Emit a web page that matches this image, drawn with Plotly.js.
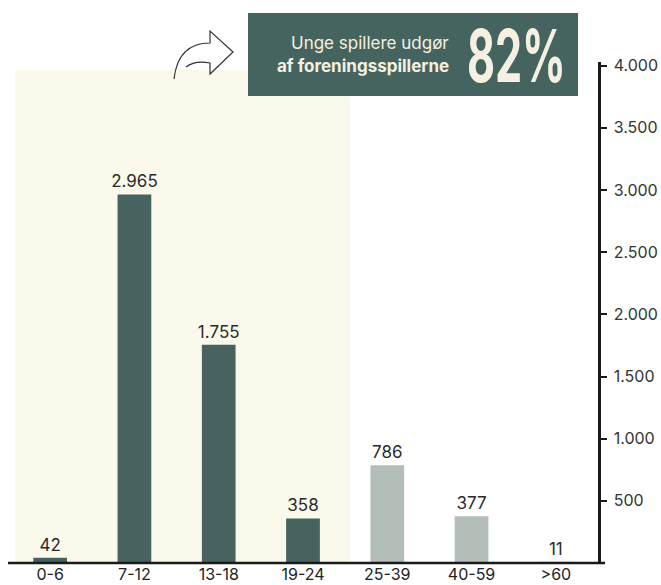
<!DOCTYPE html>
<html>
<head>
<meta charset="utf-8">
<script src="https://cdn.plot.ly/plotly-3.0.1.min.js"></script>
<style>html,body{margin:0;padding:0;background:#fff;}#chart{width:661px;height:585px;}</style>
</head>
<body>
<div id="chart"></div>
<script>
// Data
const categories = ["0-6", "7-12", "13-18", "19-24", "25-39", "40-59", ">60"];
const players = [42, 2965, 1755, 358, 786, 377, 11];
const youthGroup = [true, true, true, true, false, false, false];
const yTickVals = [500, 1000, 1500, 2000, 2500, 3000, 3500, 4000];
const headlineLine1 = "Unge spillere udgør";
const headlineLine2 = "af foreningsspillerne";
const headlineValue = "82%";

// Layout geometry (pixels)
const W = 661, H = 585;
const L = 8, R = 598, T = 62, B = 563;
const px = X => (X - L) / (R - L);
const py = Y => (B - Y) / (B - T);
const pt = (X, Y) => px(X).toFixed(4) + "," + py(Y).toFixed(4);

const darkCol = "#47635F";
const lightCol = "#B4BEB9";
const creamBg = "#FBF8EC";
const boxCol = "#46645F";
const creamText = "#F5F0E1";
const sansFont = "Inter, 'Open Sans', sans-serif";

const trace = {
  type: "bar",
  x: categories,
  y: players,
  marker: { color: youthGroup.map(g => g ? darkCol : lightCol) },
  texttemplate: "%{y:,d}",
  textposition: "outside",
  constraintext: "none",
  cliponaxis: false,
  textfont: { family: sansFont, size: 17, color: "#2a2a2a" },
  hoverinfo: "none"
};

const arrowPath = "M " + pt(174, 79) + " Q " + pt(178, 43) + " " + pt(210, 43) +
  " L " + pt(210, 31) + " L " + pt(233, 52) + " L " + pt(210, 74) +
  " L " + pt(210, 63) + " Q " + pt(195, 60) + " " + pt(186, 67);

const layout = {
  width: W, height: H,
  margin: { l: L, r: W - R, t: T, b: H - B, pad: 0 },
  paper_bgcolor: "#ffffff",
  plot_bgcolor: "rgba(0,0,0,0)",
  separators: ",.",
  showlegend: false,
  bargap: 0.6,
  xaxis: {
    type: "category",
    range: [-0.5, 6.5],
    showgrid: false, zeroline: false, showline: false,
    ticks: "",
    tickfont: { family: sansFont, size: 16, color: "#222" },
    ticklabelstandoff: 0,
    fixedrange: true
  },
  yaxis: {
    side: "right",
    range: [0, 4030],
    tickvals: yTickVals,
    tickformat: ",d",
    showgrid: false, zeroline: false,
    showline: true, linecolor: "#1a1a1a", linewidth: 2.5,
    ticks: "outside", ticklen: 6, tickwidth: 2, tickcolor: "#1a1a1a",
    tickfont: { family: sansFont, size: 16, color: "#333" },
    ticklabelstandoff: 4,
    fixedrange: true
  },
  shapes: [
    { type: "rect", xref: "paper", yref: "paper", layer: "below",
      x0: px(15), x1: px(350), y0: 0, y1: py(70),
      fillcolor: creamBg, line: { width: 0 } },
    { type: "line", xref: "paper", yref: "paper",
      x0: 0, x1: px(605), y0: 0, y1: 0,
      line: { color: "#1a1a1a", width: 2.5 } },
    { type: "rect", xref: "paper", yref: "paper",
      x0: px(248), x1: px(578), y0: py(96), y1: py(13),
      fillcolor: boxCol, line: { width: 0 } },
    { type: "path", xref: "paper", yref: "paper", path: arrowPath,
      line: { color: "#333", width: 1.2 } }
  ],
  annotations: [
    { xref: "paper", yref: "paper", x: px(451), y: py(43), xanchor: "right", yanchor: "middle",
      text: headlineLine1, showarrow: false,
      font: { family: sansFont, size: 17, color: creamText } },
    { xref: "paper", yref: "paper", x: px(451), y: py(66), xanchor: "right", yanchor: "middle",
      text: headlineLine2, showarrow: false,
      font: { family: sansFont, size: 17, weight: 700, color: creamText } },
    { xref: "paper", yref: "paper", x: px(516), y: py(56), xanchor: "center", yanchor: "middle",
      text: headlineValue, showarrow: false,
      font: { family: sansFont, size: 50, weight: 700, color: creamText } }
  ]
};

Plotly.newPlot("chart", [trace], layout, { displayModeBar: false, staticPlot: true }).then(function (gd) {
  // give the big headline number a tall, condensed look (still real text)
  gd.querySelectorAll(".annotation-text").forEach(function (t) {
    if (t.textContent === headlineValue) {
      t.setAttribute("textLength", "99");
      t.setAttribute("lengthAdjust", "spacingAndGlyphs");
      const bb = t.getBBox();
      const cy = bb.y + bb.height / 2;
      const prev = t.getAttribute("transform") || "";
      t.setAttribute("transform", prev + " translate(0," + cy + ") scale(1,1.45) translate(0," + (-cy) + ")");
    }
  });
});
</script>
</body>
</html>
